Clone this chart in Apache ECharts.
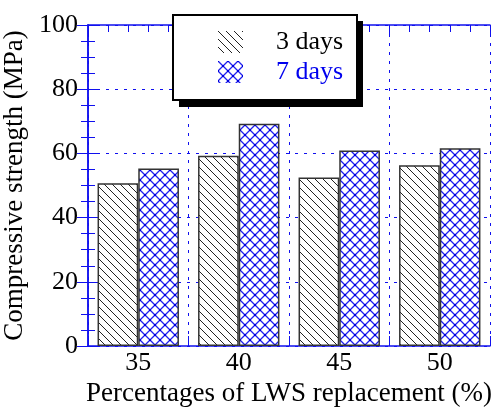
<!DOCTYPE html>
<html>
<head>
<meta charset="utf-8">
<script src="https://cdn.jsdelivr.net/npm/echarts@6/dist/echarts.min.js"></script>
<style>
  html, body { margin: 0; padding: 0; background: #fff; }
  #chart { width: 492px; height: 408px; }
</style>
</head>
<body>
<div id="chart"></div>
<script>
// data
let categories = ['35', '40', '45', '50'];
let days3 = [50.7, 59.3, 52.5, 56.3];
let days7 = [55.3, 69.2, 60.9, 61.6];
let yTicks = [0, 20, 40, 60, 80, 100];

let blue = '#1010ee';
let font = '"Liberation Serif", "Times New Roman", serif';
let fs = 26;

// black diagonal hatch
function hatch() {
    let c = document.createElement('canvas');
    c.width = 8; c.height = 8;
    let g = c.getContext('2d');
    g.fillStyle = '#fff';
    g.fillRect(0, 0, 8, 8);
    g.strokeStyle = '#222';
    g.lineWidth = 1;
    g.beginPath();
    g.moveTo(-1, -1); g.lineTo(9, 9);
    g.moveTo(-1, 7); g.lineTo(1, 9);
    g.moveTo(7, -1); g.lineTo(9, 1);
    g.stroke();
    return c;
}

// blue cross hatch with dots
function cross() {
    let c = document.createElement('canvas');
    c.width = 10; c.height = 10;
    let g = c.getContext('2d');
    g.fillStyle = '#fff';
    g.fillRect(0, 0, 10, 10);
    g.strokeStyle = '#2020f0';
    g.lineWidth = 1.3;
    g.beginPath();
    g.moveTo(0, 0); g.lineTo(10, 10);
    g.moveTo(10, 0); g.lineTo(0, 10);
    g.stroke();
    g.fillStyle = '#0000dd';
    g.fillRect(4, 4, 2, 2);
    g.fillRect(0, 0, 1, 1); g.fillRect(9, 0, 1, 1);
    g.fillRect(0, 9, 1, 1); g.fillRect(9, 9, 1, 1);
    return c;
}

let chart = echarts.init(document.getElementById('chart'));

let gridLine = { show: true, lineStyle: { color: blue, type: [3, 6], width: 1 } };

let option = {
    animation: false,
    backgroundColor: '#fff',
    textStyle: { fontFamily: font },
    grid: { left: 88, right: 2, top: 25, bottom: 62, outerBoundsMode: 'none' },
    graphic: [
        // legend box with its solid black drop shadow
        { type: 'rect', z: 10, shape: { x: 179, y: 21, width: 184, height: 86 }, style: { fill: '#000' } },
        { type: 'rect', z: 11, shape: { x: 173, y: 15, width: 184, height: 85 }, style: { fill: '#fff', stroke: '#000', lineWidth: 2 } }
    ],
    legend: {
        orient: 'vertical',
        left: 218,
        top: 29,
        z: 20,
        padding: 0,
        itemWidth: 25,
        itemHeight: 22,
        itemGap: 4,
        icon: 'rect',
        itemStyle: { borderWidth: 0 },
        textStyle: { fontSize: fs, fontFamily: font, padding: [0, 0, 0, 28] },
        data: [
            { name: '3 days', textStyle: { color: '#000' } },
            { name: '7 days', textStyle: { color: '#0000ee' } }
        ]
    },
    xAxis: [
        {
            type: 'category',
            data: categories,
            position: 'bottom',
            name: 'Percentages of LWS replacement (%)',
            nameLocation: 'middle',
            nameGap: 33,
            nameTextStyle: { fontSize: 27, color: '#000', fontFamily: font },
            axisLine: { lineStyle: { color: blue, width: 1.5 } },
            axisTick: { show: false },
            axisLabel: { fontSize: fs, color: '#000', margin: 4, fontFamily: font },
            splitLine: { show: false }
        },
        {
            type: 'value',
            min: 0, max: 4, interval: 1,
            position: 'bottom',
            axisLine: { show: false },
            axisTick: { show: true, inside: true, length: 10, lineStyle: { color: blue } },
            minorTick: { show: true, splitNumber: 5, length: 7, lineStyle: { color: blue } },
            axisLabel: { show: false },
            splitLine: gridLine
        },
        {
            type: 'value',
            min: 0, max: 4, interval: 1,
            position: 'top',
            axisLine: { show: true, lineStyle: { color: blue, width: 1.5 } },
            axisTick: { show: true, inside: true, length: 10, lineStyle: { color: blue } },
            minorTick: { show: true, splitNumber: 5, length: 7, lineStyle: { color: blue } },
            axisLabel: { show: false },
            splitLine: { show: false }
        }
    ],
    yAxis: [
        {
            type: 'value',
            min: 0, max: 100, interval: 20,
            position: 'left',
            name: 'Compressive strength (MPa)',
            nameLocation: 'middle',
            nameGap: 49,
            nameTextStyle: { fontSize: 27, color: '#000', fontFamily: font },
            axisLine: { show: true, lineStyle: { color: blue, width: 1.5 } },
            axisTick: { show: true, inside: true, length: 11, lineStyle: { color: blue } },
            minorTick: { show: true, splitNumber: 4, length: 7, lineStyle: { color: blue } },
            axisLabel: {
                fontSize: fs, color: '#000', margin: 10, fontFamily: font,
                formatter: v => yTicks.includes(v) ? String(v) : ''
            },
            splitLine: gridLine
        },
        {
            type: 'value',
            min: 0, max: 100, interval: 20,
            position: 'right',
            axisLine: { show: true, lineStyle: { color: blue, width: 1.5 } },
            axisTick: { show: true, inside: true, length: 11, lineStyle: { color: blue } },
            minorTick: { show: true, splitNumber: 4, length: 7, lineStyle: { color: blue } },
            axisLabel: { show: false },
            splitLine: { show: false }
        }
    ],
    series: [
        {
            name: '3 days',
            type: 'bar',
            xAxisIndex: 0,
            yAxisIndex: 0,
            barGap: '0%',
            barCategoryGap: '19%',
            data: days3,
            itemStyle: {
                color: { image: hatch(), repeat: 'repeat' },
                borderColor: '#333',
                borderWidth: 1.5
            }
        },
        {
            name: '7 days',
            type: 'bar',
            xAxisIndex: 0,
            yAxisIndex: 0,
            data: days7,
            itemStyle: {
                color: { image: cross(), repeat: 'repeat' },
                borderColor: '#333',
                borderWidth: 1.5
            }
        }
    ]
};

chart.setOption(option);
</script>
</body>
</html>
